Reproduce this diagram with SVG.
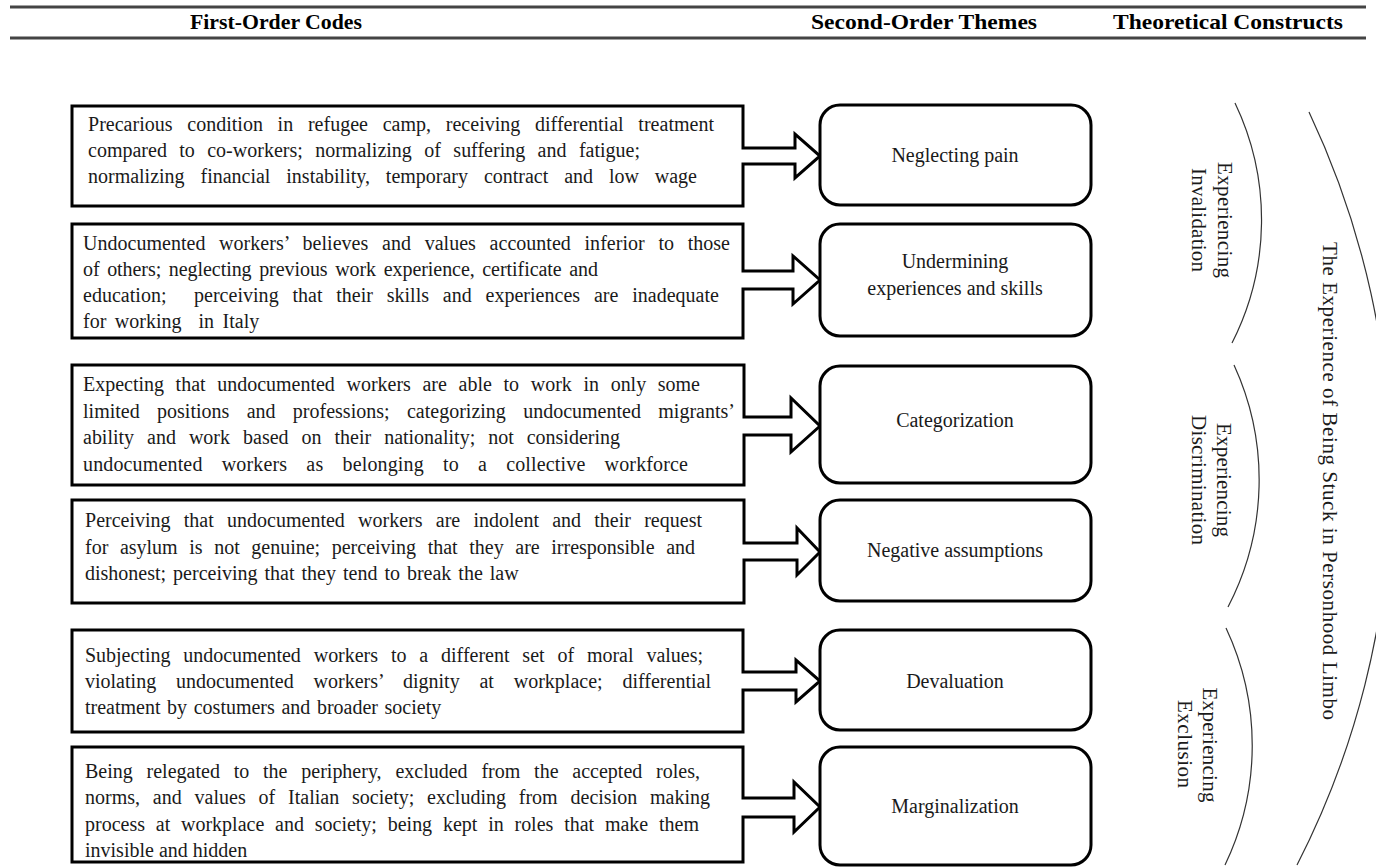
<svg xmlns="http://www.w3.org/2000/svg" width="1376" height="867" viewBox="0 0 1376 867">
<style>
.hdr{font-family:"Liberation Serif",serif;font-weight:bold;font-size:21px;fill:#000;text-anchor:middle}
.t{font-family:"Liberation Serif",serif;font-size:20px;fill:#1a1a1a}
.c{font-family:"Liberation Serif",serif;font-size:20px;fill:#1a1a1a;text-anchor:middle}
.v{font-family:"Liberation Serif",serif;font-size:21px;fill:#1a1a1a;text-anchor:middle}
.box{fill:#fff;stroke:#000;stroke-width:3;stroke-linejoin:miter}
.rbox{fill:#fff;stroke:#000;stroke-width:3}
.arc{fill:none;stroke:#333;stroke-width:1.2}
.rule{stroke:#444;stroke-width:3}
</style>
<rect width="1376" height="867" fill="#fff"/>
<g id="header">
<line class="rule" x1="10" y1="7" x2="1366" y2="7"/>
<line class="rule" x1="10" y1="38" x2="1366" y2="38"/>
<text class="hdr" x="276" y="29" textLength="172" lengthAdjust="spacingAndGlyphs">First-Order Codes</text>
<text class="hdr" x="924" y="29" textLength="226" lengthAdjust="spacingAndGlyphs">Second-Order Themes</text>
<text class="hdr" x="1228" y="29" textLength="230" lengthAdjust="spacingAndGlyphs">Theoretical Constructs</text>
</g>
<g id="connectors">
<path class="box" d="M72 106 H743 V148 H795 V134 L820 156 L795 178 V164 H743 V206 H72 Z"/>
<path class="box" d="M72 224 H743 V271 H793 V256 L820 280 L793 304 V289 H743 V338 H72 Z"/>
<path class="box" d="M72 365 H744 V417 H791 V398 L820 426 L791 452 V435 H744 V485 H72 Z"/>
<path class="box" d="M72 500 H744 V543 H797 V528 L820 552 L797 575 V560 H744 V603 H72 Z"/>
<path class="box" d="M72 630 H743 V672 H796 V660 L820 681 L796 702 V690 H743 V732 H72 Z"/>
<path class="box" d="M72 747 H743 V798 H794 V782 L820 807 L794 832 V817 H743 V862 H72 Z"/>
</g>
<g id="code1">
<text class="t" x="88" y="131" word-spacing="9.7" textLength="626">Precarious condition in refugee camp, receiving differential treatment</text>
<text class="t" x="88" y="157" word-spacing="7.4" textLength="552">compared to co-workers; normalizing of suffering and fatigue;</text>
<text class="t" x="88" y="183" word-spacing="10.9" textLength="609">normalizing financial instability, temporary contract and low wage</text>
</g>
<g id="code2">
<text class="t" x="83" y="250" word-spacing="8.7" textLength="647">Undocumented workers’ believes and values accounted inferior to those</text>
<text class="t" x="83" y="276" word-spacing="2.7" textLength="515">of others; neglecting previous work experience, certificate and</text>
<text class="t" x="83" y="302" word-spacing="8.7" textLength="636" xml:space="preserve">education;  perceiving that their skills and experiences are inadequate</text>
<text class="t" x="83" y="328" word-spacing="3.5" xml:space="preserve">for working  in Italy</text>
</g>
<g id="code3">
<text class="t" x="83" y="391" word-spacing="6.7" textLength="617">Expecting that undocumented workers are able to work in only some</text>
<text class="t" x="83" y="418" word-spacing="12.3" textLength="652">limited positions and professions; categorizing undocumented migrants’</text>
<text class="t" x="83" y="444" word-spacing="8" textLength="537">ability and work based on their nationality; not considering</text>
<text class="t" x="83" y="471" word-spacing="14" textLength="605">undocumented workers as belonging to a collective workforce</text>
</g>
<g id="code4">
<text class="t" x="85" y="527" word-spacing="8.2" textLength="617">Perceiving that undocumented workers are indolent and their request</text>
<text class="t" x="85" y="554" word-spacing="6.6" textLength="610">for asylum is not genuine; perceiving that they are irresponsible and</text>
<text class="t" x="85" y="580" word-spacing="2">dishonest; perceiving that they tend to break the law</text>
</g>
<g id="code5">
<text class="t" x="85" y="662" word-spacing="7.9" textLength="618">Subjecting undocumented workers to a different set of moral values;</text>
<text class="t" x="85" y="688" word-spacing="14.8" textLength="626">violating undocumented workers’ dignity at workplace; differential</text>
<text class="t" x="85" y="714" word-spacing="1.6">treatment by costumers and broader society</text>
</g>
<g id="code6">
<text class="t" x="85" y="778" word-spacing="8.8" textLength="615">Being relegated to the periphery, excluded from the accepted roles,</text>
<text class="t" x="85" y="804" word-spacing="7.9" textLength="625">norms, and values of Italian society; excluding from decision making</text>
<text class="t" x="85" y="831" word-spacing="5.8" textLength="614">process at workplace and society; being kept in roles that make them</text>
<text class="t" x="85" y="857">invisible and hidden</text>
</g>
<g id="theme1"><rect class="rbox" x="820" y="105" width="271" height="100" rx="20"/><text class="c" x="955" y="162">Neglecting pain</text></g>
<g id="theme2"><rect class="rbox" x="820" y="224" width="271" height="112" rx="20"/><text class="c" x="955" y="268">Undermining</text><text class="c" x="955" y="295">experiences and skills</text></g>
<g id="theme3"><rect class="rbox" x="820" y="366" width="271" height="117" rx="20"/><text class="c" x="955" y="427">Categorization</text></g>
<g id="theme4"><rect class="rbox" x="820" y="500" width="271" height="101" rx="20"/><text class="c" x="955" y="557">Negative assumptions</text></g>
<g id="theme5"><rect class="rbox" x="820" y="630" width="271" height="100" rx="20"/><text class="c" x="955" y="688">Devaluation</text></g>
<g id="theme6"><rect class="rbox" x="820" y="747" width="271" height="118" rx="20"/><text class="c" x="955" y="813">Marginalization</text></g>
<g id="construct1">
<path class="arc" d="M1235 103 A271 271 0 0 1 1232 343"/>
<text class="v" transform="translate(1218 220) rotate(90)" textLength="116">Experiencing</text>
<text class="v" transform="translate(1192 220) rotate(90)" textLength="104">Invalidation</text>
</g>
<g id="construct2">
<path class="arc" d="M1234 365 A275 275 0 0 1 1228 607"/>
<text class="v" transform="translate(1217 480) rotate(90)" textLength="114">Experiencing</text>
<text class="v" transform="translate(1192 480) rotate(90)" textLength="130">Discrimination</text>
</g>
<g id="construct3">
<path class="arc" d="M1226 628 A276 276 0 0 1 1225 865"/>
<text class="v" transform="translate(1203 745) rotate(90)" textLength="115">Experiencing</text>
<text class="v" transform="translate(1178 744) rotate(90)" textLength="88">Exclusion</text>
</g>
<g id="aggregate">
<path class="arc" d="M1309 112 A852 852 0 0 1 1297 865"/>
<text class="v" transform="translate(1323 481) rotate(90)" textLength="478">The Experience of Being Stuck in Personhood Limbo</text>
</g>
</svg>
